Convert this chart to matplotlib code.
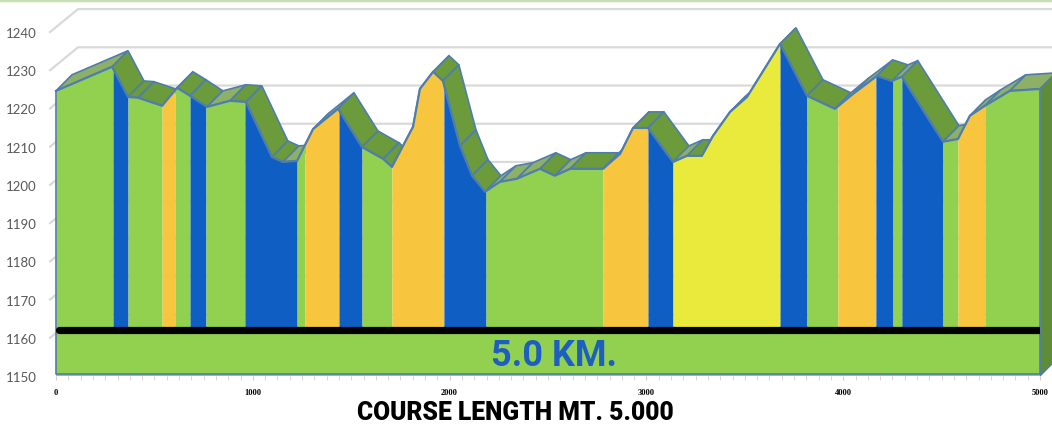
import numpy as np
import matplotlib.pyplot as plt
from matplotlib.patches import Polygon

# elevation profile (distance in metres, elevation in metres)
dist_m = [0, 285, 366, 417, 539, 615, 681, 767, 884, 965, 1097, 1153, 1225, 1306,
          1433, 1555, 1662, 1707, 1814, 1849, 1916, 1966, 2053, 2114, 2180, 2256,
          2342, 2459, 2535, 2612, 2779, 2866, 2932, 3008, 3135, 3206, 3282, 3338,
          3425, 3511, 3679, 3816, 3958, 4050, 4171, 4248, 4298, 4507, 4583, 4644,
          4720, 4847, 5000]
elev_m = [1224.6, 1230.9, 1223.0, 1222.8, 1220.7, 1225.4, 1223.3, 1220.4, 1222.0,
          1221.7, 1207.3, 1206.0, 1206.3, 1214.6, 1219.9, 1209.9, 1206.8, 1204.7,
          1215.2, 1225.1, 1229.6, 1227.2, 1210.2, 1202.4, 1198.2, 1200.8, 1201.6,
          1204.2, 1202.4, 1204.2, 1204.2, 1208.1, 1214.9, 1214.9, 1206.0, 1207.6,
          1207.6, 1212.8, 1219.1, 1223.0, 1236.9, 1223.3, 1219.9, 1223.8, 1228.5,
          1227.2, 1228.3, 1211.3, 1212.0, 1218.1, 1220.7, 1224.6, 1225.1]

# coloured sections of the course: start distance and type
seg_start = [0, 290, 366, 539, 605, 681, 762, 960, 1225, 1265, 1438, 1555, 1707,
             1971, 2185, 2779, 3008, 3135, 3679, 3816, 3973, 4166, 4253, 4298,
             4507, 4583, 4720]
seg_type = ["G", "B", "G", "O", "G", "B", "G", "B", "G", "O", "B", "G", "O",
            "B", "G", "O", "B", "Y", "B", "G", "O", "B", "G", "B", "G", "O", "G"]
course_end = 5000
base_level = 1162

y_ticks = [1150, 1160, 1170, 1180, 1190, 1200, 1210, 1220, 1230, 1240]
x_ticks = [0, 1000, 2000, 3000, 4000, 5000]

colors = {"G": "#92D050", "B": "#0F5EC4", "O": "#F7C63E", "Y": "#EAEA3C"}
edge_col = "#4E7DAE"
bold_font = ["Roboto", "DejaVu Sans"]

fig = plt.figure(figsize=(10.52, 4.27), dpi=100)
ax = fig.add_axes([56 / 1052, 50 / 427, 984 / 1052, 344 / 427])
ax.set_xlim(0, 5000)
ax.set_ylim(1150, 1240)
for s in ax.spines.values():
    s.set_visible(False)

# depth offsets of the fake 3d (data units)
ddx, ddy = 81, 4.2
wdx, wdy = 142, 6.0

# back wall gridlines
for lv in y_ticks[1:]:
    ax.plot([-30, wdx - 30, 5200], [lv, lv + wdy, lv + wdy], color="#D9D9D9",
            lw=1.6, zorder=0, clip_on=False)

# top ribbon, hidden faces first
x = np.array(dist_m, float)
y = np.array(elev_m, float)
quads = []
for i in range(len(x) - 1):
    dx, dy = x[i + 1] - x[i], y[i + 1] - y[i]
    cross = dx * ddy - dy * ddx
    face = "#6B9B3A" if dy <= 0 else "#8DAF66"
    pts = [(x[i], y[i]), (x[i + 1], y[i + 1]),
           (x[i + 1] + ddx, y[i + 1] + ddy), (x[i] + ddx, y[i] + ddy)]
    quads.append((cross > 0, pts, face))
for visible, pts, face in sorted(quads, key=lambda q: q[0]):
    ax.add_patch(Polygon(pts, closed=True, fc=face, ec=edge_col, lw=1.2,
                         zorder=1, clip_on=False))

# right end face
ax.add_patch(Polygon([(5000, 1150), (5000, y[-1]), (5000 + ddx, y[-1] + ddy),
                      (5000 + ddx, 1150 + ddy)], closed=True, fc="#5F8C36",
                     ec=edge_col, lw=1.0, zorder=1, clip_on=False))

# front face: green strip under the course line, coloured sections above
ax.fill_between([0, 5000], 1150, base_level + 1, color=colors["G"], lw=0, zorder=2)
ends = seg_start[1:] + [course_end]
xs = np.union1d(x, np.array(seg_start + [course_end], float))
for a, b, t in zip(seg_start, ends, seg_type):
    xx = xs[(xs >= a) & (xs <= b)]
    yy = np.interp(xx, x, y)
    ax.fill_between(xx, base_level, yy, color=colors[t], lw=0, zorder=2)

ax.plot(x, y, color=edge_col, lw=1.6, zorder=3, clip_on=False)
ax.plot([0, 0, 5000, 5000], [y[0], 1150.6, 1150.6, y[-1]], color=edge_col, lw=1.2,
        zorder=3, clip_on=False)
ax.plot([15, 5000], [base_level, base_level], color="black", lw=5.2,
        solid_capstyle="round", zorder=4)

ax.text(2530, 1155.6, "5.0 KM.", color="#1D5FC0", fontsize=26, fontweight="bold",
        ha="center", va="center", zorder=5, family=bold_font)

# axes ticks
ax.set_yticks(y_ticks)
ax.set_yticklabels([str(v) for v in y_ticks], color="#595959", fontsize=9.5,
                   family="Lato")
ax.tick_params(axis="y", length=0, pad=14)
ax.set_xticks(x_ticks)
ax.set_xticklabels([str(v) for v in x_ticks], fontsize=6, fontweight="bold",
                   family="Liberation Serif")
ax.set_xticks(np.arange(0, 5001, 62.5), minor=True)
ax.tick_params(axis="x", which="major", length=3, color="#E0C8C8", pad=6)
ax.tick_params(axis="x", which="minor", length=3, color="#E0C8C8")

fig.text(515 / 1052, 1 - 413 / 427, "COURSE LENGTH MT. 5.000", fontsize=17.7,
         fontweight="heavy", ha="center", va="center", family=bold_font)
fig.add_artist(plt.Line2D([0, 1], [0.997, 0.997], color="#C6E0B4", lw=2.5))

fig.savefig("out.png", dpi=100)
